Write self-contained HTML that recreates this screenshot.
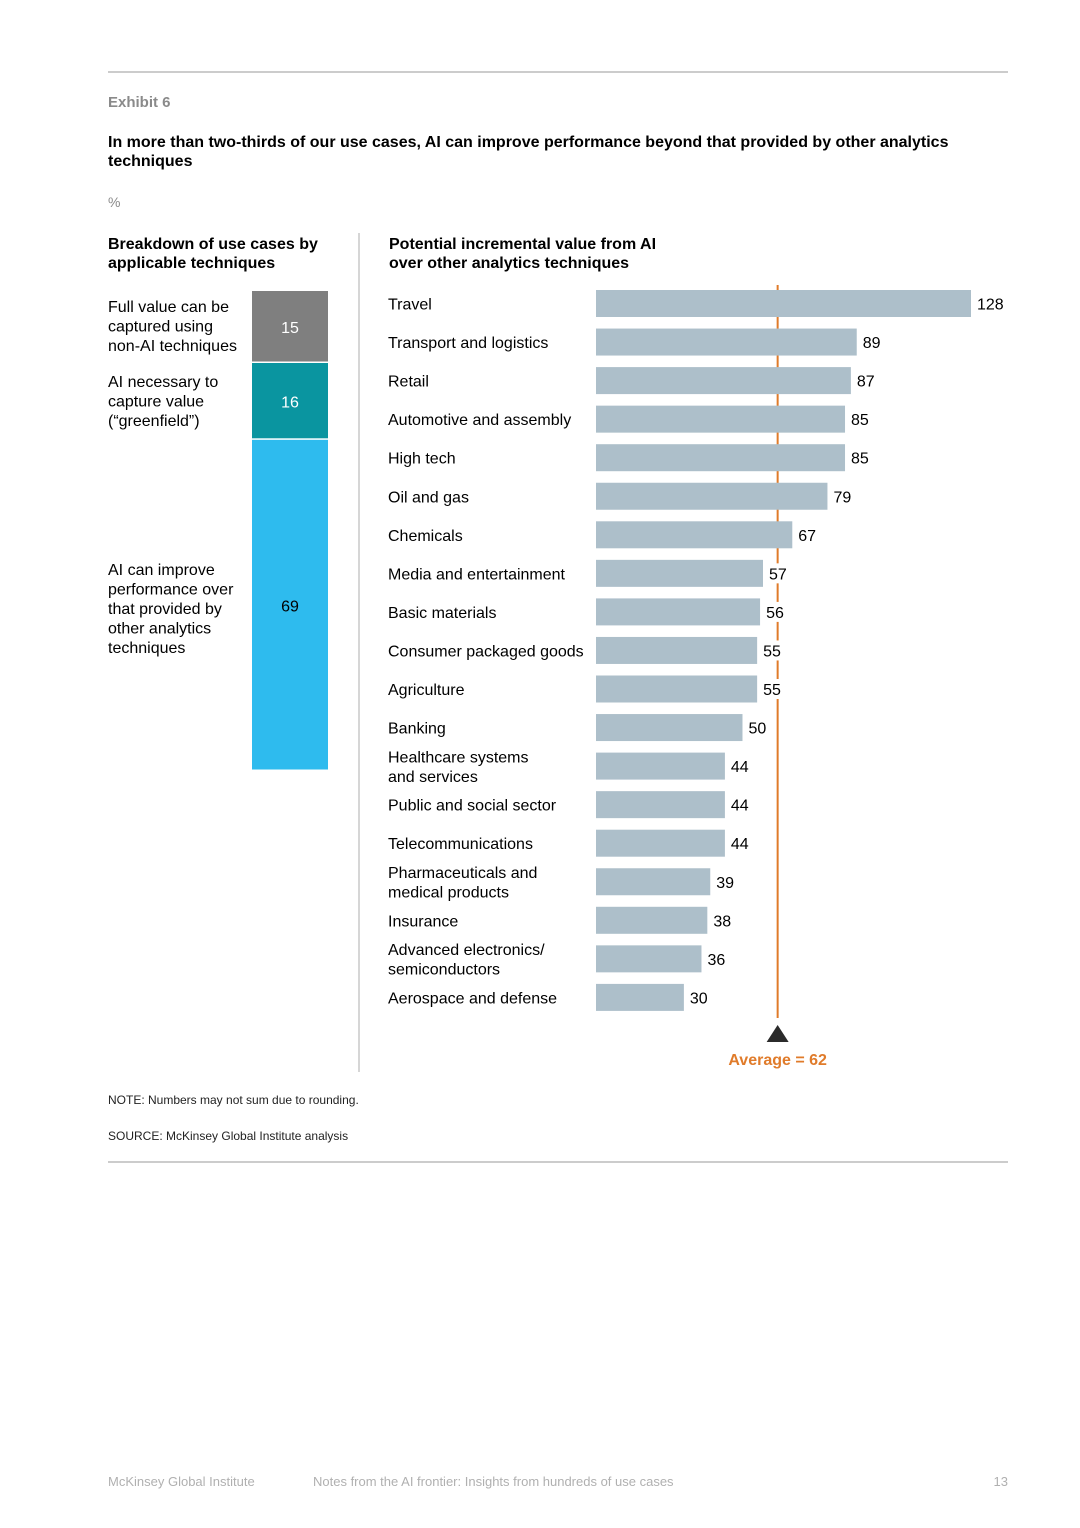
<!DOCTYPE html>
<html><head><meta charset="utf-8"><style>
body{margin:0;background:#fff;width:1080px;height:1528px;overflow:hidden;font-family:"Liberation Sans",Arial,sans-serif;}
svg{display:block}
</style></head><body>
<svg width="1080" height="1528" xmlns="http://www.w3.org/2000/svg" font-family="Liberation Sans, Arial, sans-serif" id="chart">
<line x1="108" y1="72" x2="1008" y2="72" stroke="#9a9a9a" stroke-width="1"/>
<text x="108" y="107" font-size="15" font-weight="bold" fill="#8a8a8a">Exhibit 6</text>
<text x="108" y="147" font-size="16" font-weight="bold" fill="#000">In more than two-thirds of our use cases, AI can improve performance beyond that provided by other analytics</text>
<text x="108" y="166" font-size="16" font-weight="bold" fill="#000">techniques</text>
<text x="108" y="207" font-size="14" fill="#8a8a8a">%</text>
<text x="108" y="249" font-size="16" font-weight="bold">Breakdown of use cases by</text>
<text x="108" y="268" font-size="16" font-weight="bold">applicable techniques</text>
<text x="389" y="249" font-size="16" font-weight="bold">Potential incremental value from AI</text>
<text x="389" y="268" font-size="16" font-weight="bold">over other analytics techniques</text>
<line x1="359" y1="233" x2="359" y2="1072" stroke="#c8c8c8" stroke-width="1.5"/>
<g id="stack"></g>
<g id="bars"></g>
<text x="108" y="1104" font-size="12" fill="#222">NOTE: Numbers may not sum due to rounding.</text>
<text x="108" y="1140" font-size="12" fill="#222">SOURCE:  McKinsey Global Institute analysis</text>
<line x1="108" y1="1162" x2="1008" y2="1162" stroke="#9a9a9a" stroke-width="1"/>
<text x="108" y="1486" font-size="13" fill="#b0b0b0">McKinsey Global Institute</text>
<text x="313" y="1486" font-size="13" fill="#b0b0b0">Notes from the AI frontier: Insights from hundreds of use cases</text>
<text x="1008" y="1486" font-size="13" fill="#b0b0b0" text-anchor="end">13</text>
</svg>
<script>
const categories=["Travel","Transport and logistics","Retail","Automotive and assembly","High tech","Oil and gas","Chemicals","Media and entertainment","Basic materials","Consumer packaged goods","Agriculture","Banking","Healthcare systems|and services","Public and social sector","Telecommunications","Pharmaceuticals and|medical products","Insurance","Advanced electronics/|semiconductors","Aerospace and defense"];
const values=[128,89,87,85,85,79,67,57,56,55,55,50,44,44,44,39,38,36,30];
const average=62;
const stackValues=[15,16,69];
const stackLabels=["Full value can be|captured using|non-AI techniques","AI necessary to|capture value|(“greenfield”)","AI can improve|performance over|that provided by|other analytics|techniques"];
const stackColors=["#7f7f7f","#0a95a0","#2ebbee"];

const NS="http://www.w3.org/2000/svg";
function mk(tag,attrs,parent){const e=document.createElementNS(NS,tag);for(const k in attrs)e.setAttribute(k,attrs[k]);parent.appendChild(e);return e;}
const x0=596,scale=375/128;
const xs=v=>x0+v*scale;
const rowY=i=>303.5+i*38.55;
const bars=document.getElementById('bars');
// average line
const ax=xs(average);
const avg=mk('line',{x1:ax,y1:285,x2:ax,y2:1018,stroke:'#e07b2a','stroke-width':2},bars);


values.forEach((v,i)=>{
  const cy=rowY(i);
  const r=mk('rect',{x:x0,y:cy-13.5,width:xs(v)-x0,height:27,fill:'#adbfca'},bars);
  
  
  const lx=xs(v)+5;
  const bg=mk('rect',{x:lx,y:cy-10,width:String(v).length*9+4,height:20,fill:'#fff'},bars);
  
  
  const t=mk('text',{x:lx+1,y:cy+6,'font-size':16,fill:'#000'},bars);
  t.textContent=v;
  
  
  const lines=categories[i].split('|');
  lines.forEach((ln,j)=>{
    const c=mk('text',{x:388,y:cy+6+(lines.length>1?(j-0.5)*19.5:0),'font-size':16,fill:'#000'},bars);
    c.textContent=ln;
    
    
  });
});
const tri=mk('polygon',{points:`${ax-11},1042 ${ax+11},1042 ${ax},1025`,fill:'#2b2b2b'},bars);


const at=mk('text',{x:ax,y:1065,'font-size':16,'font-weight':'bold',fill:'#e07b2a','text-anchor':'middle'},bars);
at.textContent='Average = '+average;



const stack=document.getElementById('stack');
const total=stackValues.reduce((a,b)=>a+b,0);
const sTop=291,sH=480,sScale=sH/total;
const labelY=[307,382,570];
let y=sTop;
stackValues.forEach((v,i)=>{
  const h=v*sScale;
  const r=mk('rect',{x:252,y:y,width:76,height:h-1.5,fill:stackColors[i]},stack);
  
  
  const t=mk('text',{x:290,y:y+h/2+6,'font-size':16,fill:i==2?'#000':'#fff','text-anchor':'middle'},stack);
  t.textContent=v;
  
  
  stackLabels[i].split('|').forEach((ln,j)=>{
    const c=mk('text',{x:108,y:labelY[i]+j*19.5+5,'font-size':16,fill:'#000'},stack);
    c.textContent=ln;
    
    
  });
  y+=h;
});
</script>
</body></html>
